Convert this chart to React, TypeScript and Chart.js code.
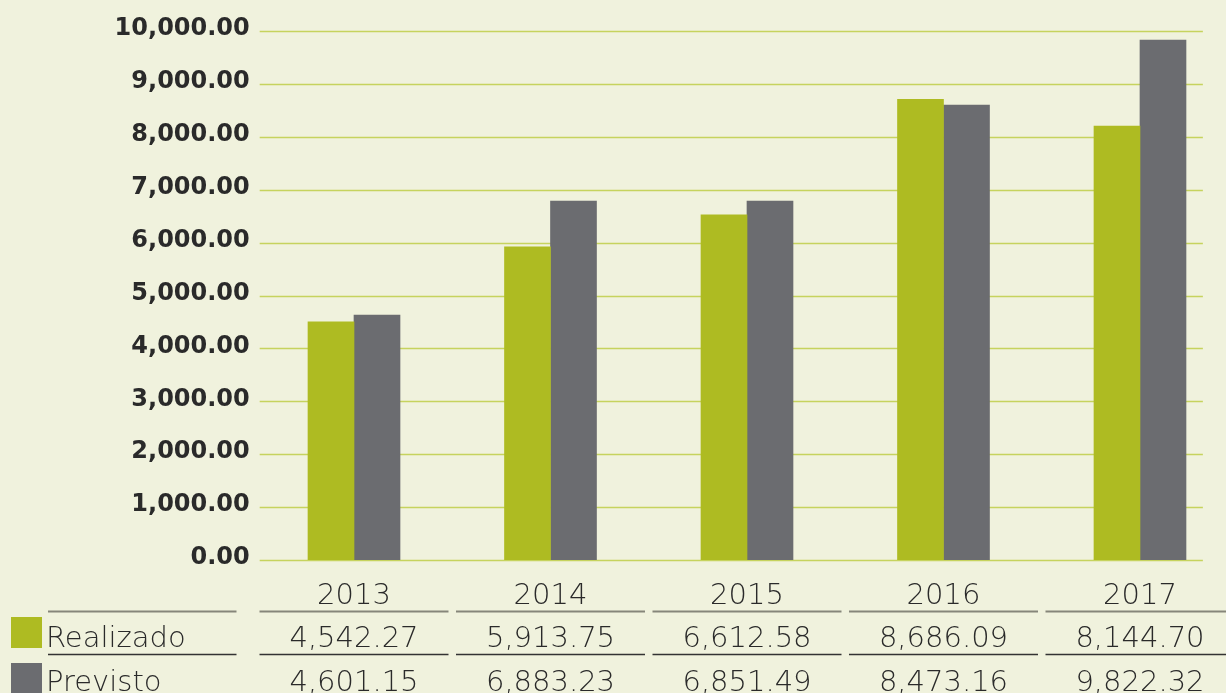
import React, { useEffect, useRef } from "react";
import { Chart, registerables } from "chart.js";

Chart.register(...registerables);

const years = ["2013", "2014", "2015", "2016", "2017"];
// bar heights as drawn in the picture
const realizadoBars = [4500, 5920, 6525, 8710, 8205];
const previstoBars = [4630, 6785, 6785, 8600, 9830];
// values printed in the table
const realizadoTable = ["4,542.27", "5,913.75", "6,612.58", "8,686.09", "8,144.70"];
const previstoTable = ["4,601.15", "6,883.23", "6,851.49", "8,473.16", "9,822.32"];
const seriesNames = ["Realizado", "Previsto"];

const GREEN = "#aebb22";
const GRAY = "#6b6c70";
const BG = "#f0f2dd";
const GRID = "#c6d35e";
const TEXT = "#2a2a2a";

const tablePlugin = {
  id: "tablePlugin",
  beforeDraw(chart: any) {
    const { ctx, width, height } = chart;
    ctx.save();
    ctx.fillStyle = BG;
    ctx.fillRect(0, 0, width, height);
    ctx.restore();
  },
  beforeDatasetsDraw(chart: any) {
    const { ctx } = chart;
    const y = chart.scales.y;
    const x = chart.scales.x;
    const left = x.getPixelForValue(-0.48);
    const right = x.getPixelForValue(4.32);
    ctx.save();
    ctx.strokeStyle = GRID;
    ctx.lineWidth = 1.5;
    for (let v = 0; v <= 10000; v += 1000) {
      const py = Math.round(y.getPixelForValue(v)) + 0.5;
      ctx.beginPath();
      ctx.moveTo(left, py);
      ctx.lineTo(right, py);
      ctx.stroke();
    }
    ctx.restore();
  },
  afterDraw(chart: any) {
    const { ctx } = chart;
    const x = chart.scales.x;
    const half = 94.5;
    ctx.save();
    ctx.font = "200 29px 'DejaVu Sans'";
    ctx.fillStyle = TEXT;
    ctx.textAlign = "center";
    ctx.textBaseline = "alphabetic";
    const lineY1 = 611.5;
    const lineY2 = 654.5;
    years.forEach((yr, i) => {
      const cx = x.getPixelForValue(i);
      ctx.fillStyle = TEXT;
      ctx.fillText(yr, cx, 604);
      ctx.fillText(realizadoTable[i], cx, 647);
      ctx.fillText(previstoTable[i], cx, 691);
      ctx.lineWidth = 2;
      ctx.strokeStyle = "#86867a";
      ctx.beginPath();
      ctx.moveTo(cx - half, lineY1);
      ctx.lineTo(cx + half, lineY1);
      ctx.stroke();
      ctx.lineWidth = 1.5;
      ctx.strokeStyle = "#333333";
      ctx.beginPath();
      ctx.moveTo(cx - half, lineY2);
      ctx.lineTo(cx + half, lineY2);
      ctx.stroke();
    });
    // legend column
    ctx.lineWidth = 2;
    ctx.strokeStyle = "#86867a";
    ctx.beginPath();
    ctx.moveTo(48, lineY1);
    ctx.lineTo(236.5, lineY1);
    ctx.stroke();
    ctx.lineWidth = 1.5;
    ctx.strokeStyle = "#333333";
    ctx.beginPath();
    ctx.moveTo(48, lineY2);
    ctx.lineTo(236.5, lineY2);
    ctx.stroke();
    ctx.fillStyle = GREEN;
    ctx.fillRect(11, 617, 31, 31);
    ctx.fillStyle = GRAY;
    ctx.fillRect(11, 663, 31, 31);
    ctx.fillStyle = TEXT;
    ctx.textAlign = "left";
    ctx.fillText(seriesNames[0], 46, 647);
    ctx.fillText(seriesNames[1], 46, 691);
    ctx.restore();
  },
};

export default function App() {
  const ref = useRef<HTMLCanvasElement>(null);
  useEffect(() => {
    if (!ref.current) return;
    const chart = new Chart(ref.current, {
      type: "bar",
      data: {
        datasets: [
          {
            label: seriesNames[0],
            data: realizadoBars.map((v, i) => ({ x: i, y: v })),
            backgroundColor: GREEN,
            barThickness: 46,
          },
          {
            label: seriesNames[1],
            data: previstoBars.map((v, i) => ({ x: i, y: v })),
            backgroundColor: GRAY,
            barThickness: 46,
          },
        ],
      },
      options: {
        animation: false,
        responsive: false,
        maintainAspectRatio: false,
        layout: { padding: { top: 31, bottom: 133, left: 0, right: 0 } },
        plugins: { legend: { display: false }, tooltip: { enabled: false } },
        scales: {
          x: {
            type: "linear",
            min: -0.5,
            max: 4.4377,
            offset: false,
            grid: { offset: false, display: false },
            display: false,
          },
          y: {
            min: 0,
            max: 10000,
            afterFit(scale: any) {
              scale.width = 255.75;
            },
            grid: { display: false, drawTicks: false },
            border: { display: false },
            ticks: {
              stepSize: 1000,
              padding: 6,
              labelOffset: -2,
              color: TEXT,
              font: { family: "'DejaVu Sans'", weight: "bold", size: 24 },
              callback: (v: any) =>
                Number(v).toLocaleString("en-US", {
                  minimumFractionDigits: 2,
                  maximumFractionDigits: 2,
                }),
            },
          },
        },
      },
      plugins: [tablePlugin],
    });
    return () => chart.destroy();
  }, []);
  return (
    <div style={{ position: "fixed", left: 0, top: 0, width: 1226, height: 693, background: BG }}>
      <canvas ref={ref} width={1226} height={693} style={{ width: 1226, height: 693, display: "block" }} />
    </div>
  );
}
